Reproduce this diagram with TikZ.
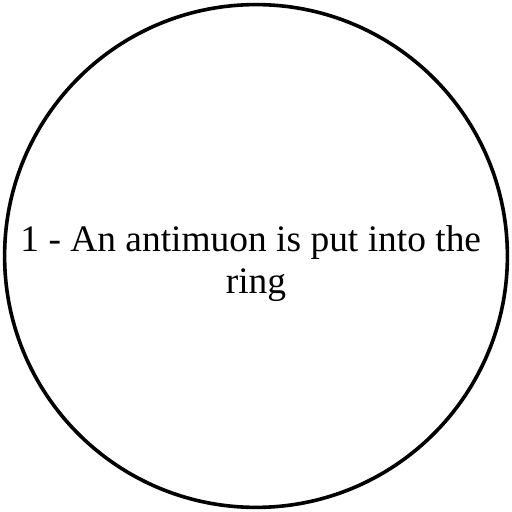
\documentclass[tikz,border=0pt]{standalone}
\usepackage{fontspec}
\setmainfont{Liberation Serif}
\tikzset{
  stage/.style={draw=black, line width=2pt, circle, minimum size=9.82cm,
    inner sep=0pt},
  stagetext/.style={align=center, font=\fontsize{20.8}{23.3}\selectfont}
}
\begin{document}
\begin{tikzpicture}

  \useasboundingbox [fill=white] (-5,-5) rectangle (5,5);

  \node [stage] (step1) at (0,0) {};
  \node [stagetext] (label1) at (0,-0.15)
    {1 - An antimuon is put into the\hspace*{0.28em}\\ring};

\end{tikzpicture}
\end{document}
